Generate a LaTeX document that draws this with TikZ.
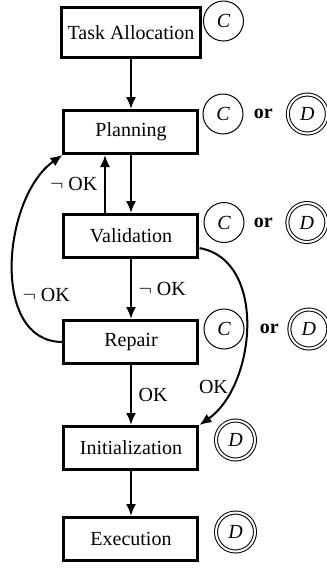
\documentclass[tikz,border=0pt]{standalone}
\usepackage{fontspec}
\setmainfont{Liberation Serif}
\usetikzlibrary{arrows.meta}
\usetikzlibrary{positioning}

\begin{document}
\begin{tikzpicture}[->,>={Latex[length=6pt,width=5pt]},auto,node distance=29pt,line width=1pt,
                    phase node/.style={rectangle,draw,line width=1.5pt,minimum width=67pt,minimum height=21.5pt,inner xsep=3pt},
                    c node/.style={circle,draw,line width=0.5pt,minimum size=20pt,inner sep=0pt,outer sep=0pt,font=\itshape},
                    d node/.style={circle,draw,double,double distance=1pt,line width=0.5pt,minimum size=19.5pt,inner sep=0pt,outer sep=0pt,font=\itshape},
                    or node/.style={font=\bfseries,inner sep=0pt}]

  \useasboundingbox (0,0) rectangle (163.5pt,-285pt);

  % phases
  \node[phase node,minimum height=25pt] (task) at (65.5pt,-16.25pt) {Task Allocation};
  \node[phase node] (plan) [below=25pt of task] {Planning};
  \node[phase node] (valid) [below=29pt of plan] {Validation};
  \node[phase node] (repair) [below=30pt of valid] {Repair};
  \node[phase node] (init) [below=30pt of repair] {Initialization};
  \node[phase node] (exec) [below=22.5pt of init] {Execution};

  % centralized / decentralized marks
  \node[c node] (cTask) [right=0.75pt of task.east,yshift=5.75pt] {C};
  \node[c node] (cPlan) [right=1.75pt of plan.east,yshift=9pt] {C};
  \node[or node] (orPlan) [right=5pt of cPlan] {or};
  \node[d node] (dPlan) [right=7pt of orPlan] {D};
  \node[c node] (cValid) [right=2.25pt of valid.east,yshift=6.75pt] {C};
  \node[or node] (orValid) [right=4.5pt of cValid] {or};
  \node[d node] (dValid) [right=6.75pt of orValid] {D};
  \node[c node] (cRepair) [right=2.25pt of repair.east,yshift=6.5pt] {C};
  \node[or node] (orRepair) [right=7.5pt of cRepair] {or};
  \node[d node] (dRepair) [right=4.75pt of orRepair] {D};
  \node[d node] (dInit) [right=8.25pt of init.east,yshift=4pt] {D};
  \node[d node] (dExec) [right=8.25pt of exec.east,yshift=3.5pt] {D};

  \path[]
    (task) edge (plan)
    (plan) edge (valid)
    ([xshift=-13pt]valid.north) edge node [left] {$\neg$ OK} ([xshift=-13pt]plan.south)
    (valid) edge node [right] {$\neg$ OK} (repair)
            edge [out=-10,in=35] node [pos=0.77,left,inner sep=1pt] {OK} (init.north east)
    (repair) edge node [right] {OK} (init)
             edge [out=180,in=215] node [pos=0.37,right] {$\neg$ OK} (plan.south west)
    (init) edge (exec)
;
\end{tikzpicture}
\end{document}
